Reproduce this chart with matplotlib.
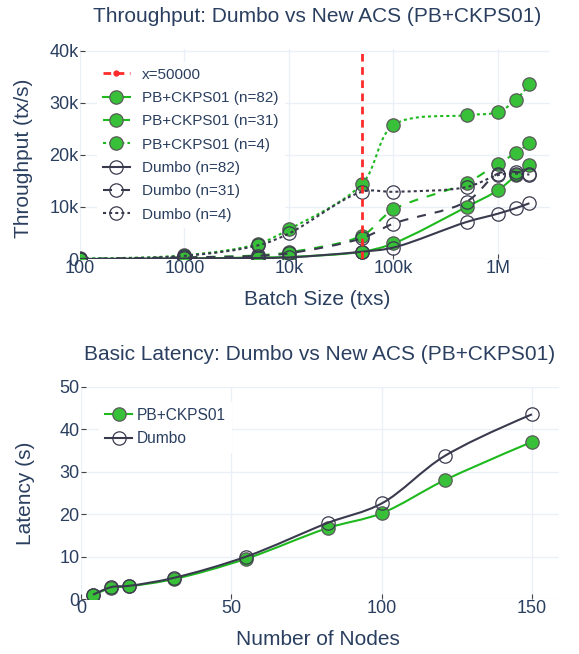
import matplotlib
matplotlib.use('Agg')
import matplotlib.pyplot as plt
from matplotlib.path import Path
from matplotlib.patches import PathPatch
from matplotlib.lines import Line2D
from matplotlib.ticker import FixedLocator, FixedFormatter, NullLocator
import numpy as np

plt.rcParams['font.family'] = ['Liberation Sans', 'DejaVu Sans']
plt.rcParams['lines.scale_dashes'] = False

# Throughput vs batch size
batch_sizes = [100, 1000, 5000, 10000, 50000, 100000, 500000, 1000000, 1500000, 2000000]
pb_n82 = [0, 100, 300, 400, 1400, 3000, 10000, 13200, 16100, 18000]
pb_n31 = [0, 300, 700, 1300, 4500, 9500, 14600, 18300, 20400, 22300]
pb_n4 = [100, 700, 2900, 5700, 14400, 25700, 27600, 28200, 30600, 33600]
dumbo_n82 = [0, 100, 200, 300, 1400, 2200, 7100, 8700, 9800, 10700]
dumbo_n31 = [0, 300, 600, 1100, 4000, 6800, 11000, 16400, 16700, 16300]
dumbo_n4 = [0, 600, 2600, 4900, 12900, 12900, 13800, 16100, 16400, 16200]
vline_x = 50000

batch_ticks = [100, 1000, 10000, 100000, 1000000]
batch_labels = ['100', '1000', '10k', '100k', '1M']
tput_ticks = [0, 10000, 20000, 30000, 40000]
tput_labels = ['0', '10k', '20k', '30k', '40k']

# Latency vs number of nodes
node_counts = [4, 10, 16, 31, 55, 82, 100, 121, 150]
pb_latency = [0.9, 2.6, 3.0, 4.7, 9.5, 16.7, 20.2, 28.0, 37.0]
dumbo_latency = [1.0, 2.8, 3.1, 5.0, 10.0, 17.9, 22.5, 33.7, 43.5]

TEXT = '#2a3f5f'
GRID = '#ebf0f8'
GREEN_LINE = '#1db91d'
GREEN_FILL = '#38c038'
DUMBO = '#3a3a4e'
RED = '#ff2a2a'

DASH = (0, (6.5, 6.5))
DOT = (0, (2.2, 2.2))
SOLID = '-'


def spline(ax, x, y, **kw):
    # plotly-like cardinal spline, computed in pixel space of the axes
    bb = ax.get_window_extent()
    W, H = bb.width, bb.height
    pts = ax.transLimits.transform(ax.transScale.transform(np.column_stack([x, y])))
    p = pts * [W, H]
    n = len(p)
    tang = []
    for i in range(1, n - 1):
        d1 = p[i - 1] - p[i]
        d2 = p[i + 1] - p[i]
        d1a = np.hypot(*d1) ** 0.5
        d2a = np.hypot(*d2) ** 0.5
        num = d2a * d2a * d1 - d1a * d1a * d2
        den1 = 3 * d2a * (d1a + d2a)
        den2 = 3 * d1a * (d1a + d2a)
        a = p[i] + (num / den1 if den1 else 0)
        b = p[i] - (num / den2 if den2 else 0)
        tang.append((a, b))
    verts = [p[0], tang[0][0], p[1]]
    codes = [Path.MOVETO, Path.CURVE3, Path.CURVE3]
    for i in range(2, n - 1):
        verts += [tang[i - 2][1], tang[i - 1][0], p[i]]
        codes += [Path.CURVE4] * 3
    verts += [tang[n - 3][1], p[n - 1]]
    codes += [Path.CURVE3] * 2
    verts = np.array(verts) / [W, H]
    patch = PathPatch(Path(verts, codes), fill=False, transform=ax.transAxes,
                      capstyle='butt', joinstyle='round', **kw)
    ax.add_patch(patch)


def style(ax):
    for s in ax.spines.values():
        s.set_visible(False)
    ax.set_facecolor('white')
    ax.grid(True, color=GRID, lw=1.0)
    ax.set_axisbelow(True)
    ax.tick_params(direction='in', length=3.6, width=0.8, color='#444444',
                   labelcolor=TEXT, labelsize=13, pad=1)


fig = plt.figure(figsize=(5.79, 6.54), dpi=100)
W_FIG, H_FIG = 579, 654

def axes_px(l, t, r, b):
    return fig.add_axes([l / W_FIG, 1 - b / H_FIG, (r - l) / W_FIG, (b - t) / H_FIG])

# ---- top: throughput ----
ax1 = axes_px(80, 49, 550, 259)
style(ax1)
ax1.set_xscale('log')
ax1.set_xlim(100, 10 ** 6.498)
ax1.set_ylim(0, 40300)
ax1.xaxis.set_major_locator(FixedLocator(batch_ticks))
ax1.xaxis.set_major_formatter(FixedFormatter(batch_labels))
ax1.xaxis.set_minor_locator(NullLocator())
ax1.yaxis.set_major_locator(FixedLocator(tput_ticks))
ax1.yaxis.set_major_formatter(FixedFormatter(tput_labels))

series = [
    ('PB+CKPS01 (n=82)', pb_n82, GREEN_LINE, SOLID, True),
    ('PB+CKPS01 (n=31)', pb_n31, GREEN_LINE, DASH, True),
    ('PB+CKPS01 (n=4)', pb_n4, GREEN_LINE, DOT, True),
    ('Dumbo (n=82)', dumbo_n82, DUMBO, SOLID, False),
    ('Dumbo (n=31)', dumbo_n31, DUMBO, DASH, False),
    ('Dumbo (n=4)', dumbo_n4, DUMBO, DOT, False),
]

handles = [Line2D([], [], color=RED, ls=(0, (5.5, 4.0)), lw=2.0, marker='o', ms=3.5)]
labels = ['x=50000']
z = 3
for name, vals, col, ls, filled in series:
    spline(ax1, batch_sizes, vals, edgecolor=col, lw=1.5, linestyle=ls, zorder=z)
    mfc = GREEN_FILL if filled else 'none'
    mec = '#5a5a5a' if filled else '#3a3a4e'
    ax1.plot(batch_sizes, vals, ls='none', marker='o', ms=9.6, mfc=mfc, mec=mec,
             mew=0.9, zorder=z + 0.5)
    handles.append(Line2D([], [], color=col, ls=ls, lw=1.5, marker='o', ms=9.6,
                          mfc=mfc, mec=mec, mew=0.9))
    labels.append(name)
    z += 1

ax1.axvline(vline_x, color=RED, ls=(0, (5.5, 4.0)), lw=2.0, zorder=20)

leg1 = ax1.legend(handles, labels, loc='upper left', bbox_to_anchor=(0.036, 0.94),
                  borderaxespad=0, fontsize=11, frameon=True, framealpha=1,
                  edgecolor='none', fancybox=False, handlelength=1.75,
                  handletextpad=0.8, labelspacing=0.61, borderpad=0.4)
for t in leg1.get_texts():
    t.set_color(TEXT)

ax1.set_xlabel('Batch Size (txs)', fontsize=15, color=TEXT, va='center')
ax1.xaxis.set_label_coords(0.504, -0.195)
ax1.set_ylabel('Throughput (tx/s)', fontsize=15, color=TEXT, va='center')
ax1.yaxis.set_label_coords(-0.12, 0.48)
fig.text(317 / W_FIG, 1 - 17 / H_FIG, 'Throughput: Dumbo vs New ACS (PB+CKPS01)',
         ha='center', va='center', fontsize=15, color=TEXT)

# ---- bottom: latency ----
ax2 = axes_px(81, 386.7, 559, 599)
style(ax2)
ax2.set_xlim(0, 159)
ax2.set_ylim(0, 50)
ax2.set_xticks([0, 50, 100, 150])
ax2.set_yticks([0, 10, 20, 30, 40, 50])

spline(ax2, node_counts, pb_latency, edgecolor=GREEN_LINE, lw=1.5, zorder=3)
ax2.plot(node_counts, pb_latency, ls='none', marker='o', ms=9.6, mfc=GREEN_FILL,
         mec='#5a5a5a', mew=0.9, zorder=3.5)
spline(ax2, node_counts, dumbo_latency, edgecolor=DUMBO, lw=1.5, zorder=4)
ax2.plot(node_counts, dumbo_latency, ls='none', marker='o', ms=9.6, mfc='none',
         mec=DUMBO, mew=0.9, zorder=4.5)

h2 = [Line2D([], [], color=GREEN_LINE, lw=1.5, marker='o', ms=9.6, mfc=GREEN_FILL,
             mec='#5a5a5a', mew=0.9),
      Line2D([], [], color=DUMBO, lw=1.5, marker='o', ms=9.6, mfc='none',
             mec=DUMBO, mew=0.9)]
leg2 = ax2.legend(h2, ['PB+CKPS01', 'Dumbo'], loc='upper left',
                  bbox_to_anchor=(0.037, 0.93), borderaxespad=0, fontsize=11.2,
                  frameon=True, framealpha=1, edgecolor='none', fancybox=False,
                  handlelength=1.75, handletextpad=0.3, labelspacing=0.55,
                  borderpad=0.4)
for t in leg2.get_texts():
    t.set_color(TEXT)

ax2.set_xlabel('Number of Nodes', fontsize=15, color=TEXT, va='center')
ax2.xaxis.set_label_coords(0.496, -0.193)
ax2.set_ylabel('Latency (s)', fontsize=15, color=TEXT, va='center')
ax2.yaxis.set_label_coords(-0.117, 0.499)
fig.text(320 / W_FIG, 1 - 354 / H_FIG, 'Basic Latency: Dumbo vs New ACS (PB+CKPS01)',
         ha='center', va='center', fontsize=15, color=TEXT)

fig.savefig('out.png', dpi=100, facecolor='white')
